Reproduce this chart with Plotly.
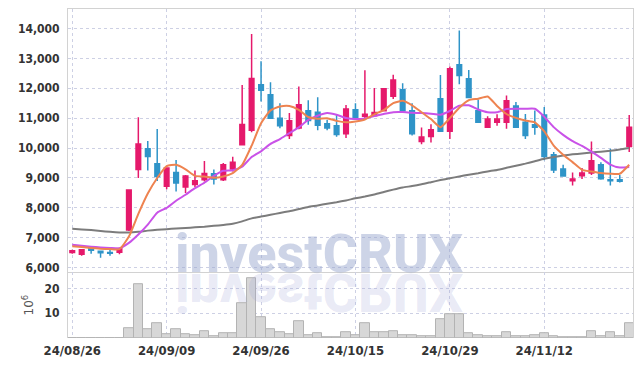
import plotly.graph_objects as go
from plotly.subplots import make_subplots

# ---------------- data ----------------
dates = [
    "2024-08-26", "2024-08-27", "2024-08-28", "2024-08-29", "2024-08-30",
    "2024-09-02", "2024-09-03", "2024-09-04", "2024-09-05", "2024-09-06",
    "2024-09-09", "2024-09-10", "2024-09-11", "2024-09-12", "2024-09-13",
    "2024-09-19", "2024-09-20", "2024-09-23", "2024-09-24", "2024-09-25",
    "2024-09-26", "2024-09-27", "2024-09-30", "2024-10-02", "2024-10-04",
    "2024-10-07", "2024-10-08", "2024-10-10", "2024-10-11", "2024-10-14",
    "2024-10-15", "2024-10-16", "2024-10-17", "2024-10-18", "2024-10-21",
    "2024-10-22", "2024-10-23", "2024-10-24", "2024-10-25", "2024-10-28",
    "2024-10-29", "2024-10-30", "2024-10-31", "2024-11-01", "2024-11-04",
    "2024-11-05", "2024-11-06", "2024-11-07", "2024-11-08", "2024-11-11",
    "2024-11-12", "2024-11-13", "2024-11-14", "2024-11-15", "2024-11-18",
    "2024-11-19", "2024-11-20", "2024-11-21", "2024-11-22", "2024-11-25",
]

open_ = [6510, 6450, 6700, 6550, 6510, 6520, 7260, 9280, 9980, 9480,
         8720, 9180, 8700, 8780, 8940, 9140, 8940, 9300, 10110, 10600,
         12120, 11780, 11000, 10420, 10670, 11250, 11200, 10810, 10750, 10480,
         11280, 11060, 11080, 11250, 11730, 11950, 11250, 10220, 10390, 11650,
         10560, 12790, 12320, 11250, 10700, 10860, 10860, 11410, 10860, 10780,
         11110, 9780, 9300, 8910, 9075, 9165, 9440, 8940, 8940, 10055]
high = [6600, 6610, 6730, 6560, 6620, 6660, 8620, 11030, 10240, 10640,
        9350, 9600, 9100, 9250, 9570, 9280, 9500, 9710, 12110, 13810,
        12900, 12200, 11500, 11170, 12060, 11600, 11700, 10950, 11130, 11440,
        11500, 12600, 12010, 11990, 12450, 12170, 11500, 10690, 10800, 12440,
        12730, 13930, 12610, 11620, 11060, 11130, 11760, 11540, 11140, 11260,
        11370, 9870, 9440, 9180, 9330, 10220, 9530, 9980, 9100, 11110]
low = [6465, 6400, 6470, 6330, 6400, 6450, 7230, 9000, 9250, 8900,
       8620, 8550, 8500, 8700, 8880, 8780, 8900, 9220, 10090, 10530,
       11560, 10970, 10660, 10300, 10630, 10780, 10600, 10600, 10380, 10340,
       10950, 10950, 11050, 11240, 11640, 11200, 10420, 10130, 10190, 10550,
       10300, 12130, 11680, 10850, 10690, 10750, 10650, 10690, 10300, 10445,
       9590, 9170, 9070, 8750, 8970, 9100, 8940, 8750, 8850, 9870]
close = [6570, 6600, 6580, 6500, 6480, 6640, 8600, 10140, 9720, 9050,
         9330, 8830, 9070, 8910, 9150, 8970, 9440, 9530, 10790, 12330,
         11930, 11000, 10750, 10910, 11450, 10920, 10760, 10670, 10450, 11310,
         10980, 11130, 11190, 11980, 12280, 11250, 10480, 10370, 10610, 10560,
         12650, 12430, 11690, 10860, 10970, 10970, 11580, 10700, 10420, 10700,
         9720, 9270, 9070, 8970, 9165, 9575, 8975, 8910, 8890, 10700]

# moving averages
ma_short = [6720, 6690, 6660, 6635, 6622, 6620, 7040, 7800, 8480, 9000,
            9400, 9440, 9290, 9070, 9050, 9010, 9050, 9160, 9440, 10080,
            10830, 11260, 11390, 11410, 11280, 11040, 10980, 11000, 10910, 10860,
            10890, 10955, 11130, 11270, 11500, 11580, 11430, 11200, 10970, 10700,
            11000, 11350, 11600, 11650, 11725, 11410, 11140, 11010, 10920, 10860,
            10560, 10080, 9776, 9530, 9274, 9218, 9164, 9141, 9141, 9442]
ma_mid = [6767, 6735, 6705, 6680, 6660, 6650, 6830, 7110, 7440, 7840,
          8000, 8240, 8440, 8660, 8840, 9070, 9240, 9260, 9380, 9700,
          9890, 10140, 10300, 10500, 10690, 10940, 11080, 11170, 11114, 11003,
          10970, 10990, 11070, 11140, 11200, 11204, 11180, 11170, 11147, 11114,
          11240, 11420, 11430, 11290, 11200, 11200, 11304, 11314, 11314, 11314,
          11050, 10700, 10440, 10230, 10070, 9880, 9670, 9450, 9351, 9370]
ma_long = [7300, 7280, 7260, 7230, 7200, 7180, 7175, 7200, 7240, 7270,
           7290, 7310, 7330, 7350, 7370, 7400, 7430, 7470, 7550, 7650,
           7710, 7770, 7830, 7890, 7960, 8030, 8080, 8140, 8190, 8250,
           8320, 8380, 8450, 8530, 8610, 8680, 8730, 8790, 8860, 8930,
           8990, 9050, 9110, 9160, 9220, 9270, 9340, 9410, 9480, 9560,
           9640, 9700, 9750, 9790, 9820, 9850, 9880, 9910, 9950, 10000]

volume = [0.1, 0.1, 0.1, 0.1, 0.1, 0.1, 3.9, 21.5, 3.6, 5.9,
          1.4, 3.6, 1.5, 1.1, 2.6, 0.6, 1.9, 1.9, 13.9, 23.9,
          8.2, 3.5, 2.3, 1.5, 6.7, 1.1, 1.9, 0.5, 0.5, 2.3,
          1.2, 6.1, 2.5, 2.3, 2.8, 1.0, 1.0, 0.6, 0.6, 7.5,
          9.6, 9.6, 1.9, 1.2, 0.8, 0.8, 2.3, 0.8, 0.8, 1.2,
          1.9, 0.8, 0.3, 0.2, 0.2, 2.8, 0.8, 2.3, 0.8, 5.9]

tick_dates = ["2024-08-26", "2024-09-09", "2024-09-26", "2024-10-15", "2024-10-29", "2024-11-12"]
tick_text = ["24/08/26", "24/09/09", "24/09/26", "24/10/15", "24/10/29", "24/11/12"]
price_ticks = [6000, 7000, 8000, 9000, 10000, 11000, 12000, 13000, 14000]
volume_ticks = [10, 20]
watermark = "investCRUX"

# ---------------- style ----------------
RED = "#e5196b"
BLUE = "#2f94c8"
GRID = "#cdd0e4"
FRAME = "#d2d2d2"
NARROW = "Noto Sans Condensed, Liberation Sans Narrow, DejaVu Sans Condensed, sans-serif"
TICKFONT = dict(family=NARROW, size=12, color="#333333", weight="bold")

fig = make_subplots(rows=2, cols=1, shared_xaxes=True, vertical_spacing=0,
                    row_heights=[0.8, 0.2])

fig.add_trace(go.Candlestick(
    x=dates, open=open_, high=high, low=low, close=close,
    increasing=dict(line=dict(color=RED, width=1.5), fillcolor=RED),
    decreasing=dict(line=dict(color=BLUE, width=1.5), fillcolor=BLUE),
    whiskerwidth=0, showlegend=False, hoverinfo="skip"), row=1, col=1)

fig.add_trace(go.Scatter(x=dates, y=ma_long, mode="lines",
                         line=dict(color="#7c7c7c", width=2, shape="spline", smoothing=0.5),
                         showlegend=False, hoverinfo="skip"), row=1, col=1)
fig.add_trace(go.Scatter(x=dates, y=ma_mid, mode="lines",
                         line=dict(color="#c952e8", width=2, shape="spline", smoothing=0.5),
                         showlegend=False, hoverinfo="skip"), row=1, col=1)
fig.add_trace(go.Scatter(x=dates, y=ma_short, mode="lines",
                         line=dict(color="#ee8350", width=2, shape="spline", smoothing=0.5),
                         showlegend=False, hoverinfo="skip"), row=1, col=1)

fig.add_trace(go.Bar(x=dates, y=volume,
                     marker=dict(color="#d7d7d7", line=dict(color="#b3b3b3", width=1)),
                     showlegend=False, hoverinfo="skip"), row=2, col=1)

common_x = dict(type="category", categoryorder="array", categoryarray=dates,
                range=[-0.45, 59.4], tickmode="array", tickvals=tick_dates,
                showgrid=True, gridcolor=GRID, griddash="dot", gridwidth=1,
                zeroline=False, rangeslider=dict(visible=False), automargin=False)
fig.update_xaxes(**common_x)
fig.update_xaxes(row=1, col=1, showticklabels=False, showline=True, mirror=True,
                 linecolor=FRAME, linewidth=1, ticks="")
fig.update_xaxes(row=2, col=1, showticklabels=True, ticktext=tick_text,
                 tickfont=dict(TICKFONT, size=13), showline=False, ticks="",
                 ticklabelstandoff=3)

fig.update_yaxes(row=1, col=1, range=[5850, 14650], tickmode="array", tickvals=price_ticks,
                 tickformat=",", tickfont=TICKFONT, showgrid=True, gridcolor=GRID,
                 griddash="dot", zeroline=False, showline=True, mirror=True,
                 linecolor=FRAME, linewidth=1, ticks="", ticklabelstandoff=5,
                 automargin=False)
fig.update_yaxes(row=2, col=1, range=[0, 26.5], tickmode="array", tickvals=volume_ticks,
                 tickfont=TICKFONT, showgrid=True, gridcolor=GRID, griddash="dot",
                 zeroline=False, showline=True, mirror=True, linecolor=FRAME,
                 linewidth=1, ticks="", ticklabelstandoff=5, automargin=False,
                 title=dict(text="10<sup>6</sup>", standoff=8,
                            font=dict(family="DejaVu Sans, sans-serif", size=12, color="#555555")))

wm_font = dict(family="Roboto, Liberation Sans, sans-serif", size=54, weight=800)
# main watermark: box bottom placed so the baseline sits on the panel separator
fig.add_annotation(text=watermark, xref="paper", yref="paper", x=0.4446, y=0.2,
                   xanchor="center", yanchor="bottom", yshift=-15, showarrow=False,
                   font=dict(wm_font, color="rgba(150,165,205,0.48)"))
# reflection: box starts at the separator, text is flipped by the post script
fig.add_annotation(text=watermark, xref="paper", yref="paper", x=0.4446, y=0.2,
                   xanchor="center", yanchor="top", yshift=0, showarrow=False,
                   font=dict(wm_font, color="rgba(160,165,215,0.24)"))

fig.update_layout(width=642, height=366, margin=dict(l=68, r=9, t=9, b=28, autoexpand=False),
                  paper_bgcolor="white", plot_bgcolor="white", bargap=0, boxgap=0.3,
                  showlegend=False, hovermode=False)

post_js = """
document.body.style.margin = '0';
document.body.style.padding = '0';
var gd = document.getElementById('{plot_id}');
function flipReflection(){
  var g = gd.querySelector('g.annotation[data-index="1"]');
  if(!g) return;
  var t = g.querySelector('text.annotation-text');
  if(!t) return;
  t.removeAttribute('transform');
  var bb = t.getBBox();
  var by = parseFloat(t.getAttribute('y'));
  if(isNaN(by)){ by = bb.y + bb.height*0.79; }
  t.setAttribute('transform', 'translate(0,' + (bb.y + by) + ') scale(1,-1)');
}
flipReflection();
if(gd.on){ gd.on('plotly_afterplot', flipReflection); }
"""

fig.write_html("out.html", post_script=post_js, config={"displayModeBar": False})
